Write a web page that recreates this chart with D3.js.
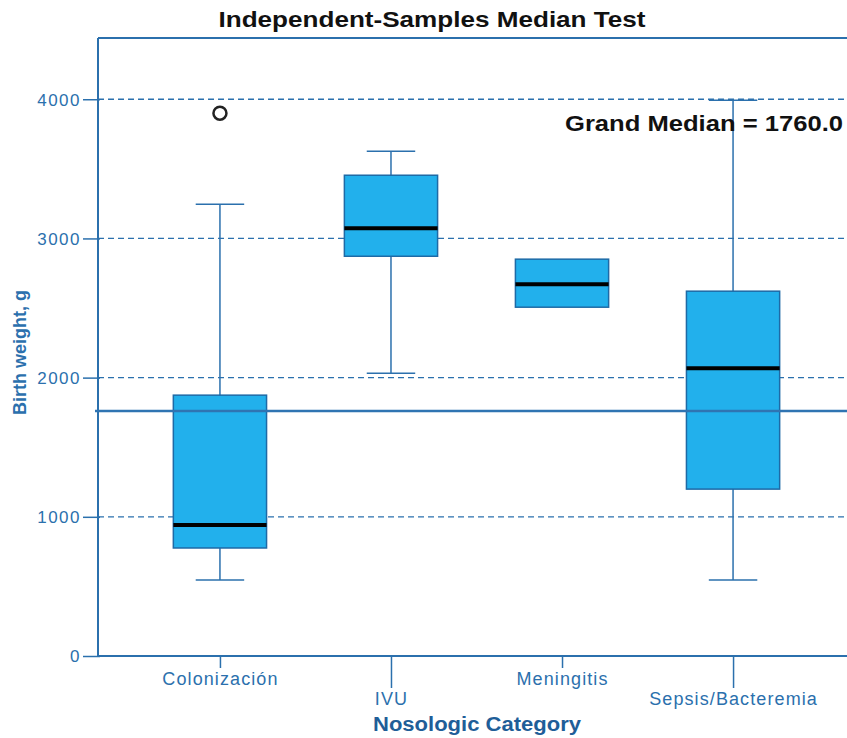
<!DOCTYPE html>
<html>
<head>
<meta charset="utf-8">
<script src="https://cdn.jsdelivr.net/npm/d3@7"></script>
<style>
  body { margin: 0; background: #fff; }
  svg { display: block; }
</style>
</head>
<body>
<div id="chart"></div>
<script>
// data
const categories = ["Colonización", "IVU", "Meningitis", "Sepsis/Bacteremia"];
const whiskerLow = [546, 2032, null, 546];
const q1 = [776, 2872, 2506, 1199];
const median = [941, 3074, 2671, 2068];
const q3 = [1874, 3454, 2851, 2621];
const whiskerHigh = [3246, 3627, null, 3993];
const outliers = [{ cat: "Colonización", value: 3900 }];
const yTicks = [0, 1000, 2000, 3000, 4000];
const grandMedian = 1760.0;

const W = 847, H = 738;
const margin = { top: 38, left: 98, bottom: 82 };
const axisBlue = "#2b70ad";
const font = "Liberation Sans, Arial, sans-serif";

const svg = d3.select("#chart").append("svg")
    .attr("width", W)
    .attr("height", H);

const y = d3.scaleLinear().domain([0, 4440]).range([H - margin.bottom, margin.top]);
const x = d3.scalePoint().domain(categories).range([margin.left, 855]).padding(0.713);
const boxW = x.step() * 0.545;
const capW = boxW * 0.52;

const boxes = categories.map((c, i) => ({
    cat: c, lo: whiskerLow[i], q1: q1[i], med: median[i], q3: q3[i], hi: whiskerHigh[i]
}));

// title
svg.append("text")
    .attr("x", 432)
    .attr("y", 27)
    .attr("text-anchor", "middle")
    .attr("font-family", font)
    .attr("font-weight", "bold")
    .attr("font-size", 22)
    .attr("textLength", 427)
    .attr("lengthAdjust", "spacingAndGlyphs")
    .attr("fill", "#111")
    .text("Independent-Samples Median Test");

// dashed grid lines
svg.append("g").selectAll("line")
    .data(yTicks.filter(d => d > 0))
    .join("line")
    .attr("x1", margin.left)
    .attr("x2", W)
    .attr("y1", d => y(d))
    .attr("y2", d => y(d))
    .attr("stroke", axisBlue)
    .attr("stroke-width", 1.3)
    .attr("stroke-dasharray", "6,4");

// top frame line
svg.append("line")
    .attr("x1", margin.left).attr("x2", W)
    .attr("y1", margin.top).attr("y2", margin.top)
    .attr("stroke", axisBlue).attr("stroke-width", 2);

// y axis
const yAxis = svg.append("g")
    .attr("transform", `translate(${margin.left},0)`)
    .call(d3.axisLeft(y).tickValues(yTicks).tickFormat(d3.format("d"))
        .tickSize(15).tickPadding(2).tickSizeOuter(0));
yAxis.select(".domain").attr("stroke", axisBlue).attr("stroke-width", 2)
    .attr("d", `M0,${margin.top}V${y(0)}`);
yAxis.selectAll(".tick line").attr("stroke", axisBlue).attr("stroke-width", 1.5).attr("x2", -15).attr("x1", 2);
yAxis.selectAll(".tick text")
    .attr("fill", axisBlue)
    .attr("font-family", font)
    .attr("font-size", 17)
    .attr("letter-spacing", 1.5)
    .attr("dy", "0.35em");

// x axis
const xAxis = svg.append("g")
    .attr("transform", `translate(0,${y(0)})`)
    .call(d3.axisBottom(x).tickSizeOuter(0).tickSize(12));
xAxis.select(".domain").attr("stroke", axisBlue).attr("stroke-width", 2)
    .attr("d", `M${margin.left},0H${W}`);
xAxis.selectAll(".tick line")
    .attr("stroke", axisBlue).attr("stroke-width", 1.5)
    .attr("y2", (d, i) => i % 2 ? 32 : 12);
xAxis.selectAll(".tick text")
    .attr("fill", axisBlue)
    .attr("font-family", font)
    .attr("font-size", 18)
    .attr("letter-spacing", 1.1)
    .attr("y", (d, i) => i % 2 ? 36 : 16)
    .attr("dy", "0.71em");

// axis titles
svg.append("text")
    .attr("transform", `translate(26,${y(2180)}) rotate(-90)`)
    .attr("text-anchor", "middle")
    .attr("font-family", font)
    .attr("font-weight", "bold")
    .attr("font-size", 18)
    .attr("textLength", 125)
    .attr("lengthAdjust", "spacingAndGlyphs")
    .attr("fill", axisBlue)
    .text("Birth weight, g");

svg.append("text")
    .attr("x", 477)
    .attr("y", 731)
    .attr("text-anchor", "middle")
    .attr("font-family", font)
    .attr("font-weight", "bold")
    .attr("font-size", 20)
    .attr("textLength", 208)
    .attr("lengthAdjust", "spacingAndGlyphs")
    .attr("fill", "#1f5e98")
    .text("Nosologic Category");

// boxes
const g = svg.append("g");
const withWhisk = boxes.filter(d => d.lo != null);

g.selectAll(".whisker")
    .data(withWhisk)
    .join("line")
    .attr("class", "whisker")
    .attr("x1", d => x(d.cat)).attr("x2", d => x(d.cat))
    .attr("y1", d => y(d.lo)).attr("y2", d => y(d.hi))
    .attr("stroke", axisBlue).attr("stroke-width", 1.5);

g.selectAll(".cap")
    .data(withWhisk.flatMap(d => [{ cat: d.cat, v: d.lo }, { cat: d.cat, v: d.hi }]))
    .join("line")
    .attr("class", "cap")
    .attr("x1", d => x(d.cat) - capW / 2).attr("x2", d => x(d.cat) + capW / 2)
    .attr("y1", d => y(d.v)).attr("y2", d => y(d.v))
    .attr("stroke", axisBlue).attr("stroke-width", 1.5);

g.selectAll(".box")
    .data(boxes)
    .join("rect")
    .attr("class", "box")
    .attr("x", d => x(d.cat) - boxW / 2)
    .attr("width", boxW)
    .attr("y", d => y(d.q3))
    .attr("height", d => y(d.q1) - y(d.q3))
    .attr("fill", "#22b0ec")
    .attr("stroke", "#1e6aa6")
    .attr("stroke-width", 1.5);

// grand median line
svg.append("line")
    .attr("x1", margin.left - 3).attr("x2", W)
    .attr("y1", y(grandMedian)).attr("y2", y(grandMedian))
    .attr("stroke", "#2f74b2").attr("stroke-width", 2.5);

g.selectAll(".med")
    .data(boxes)
    .join("line")
    .attr("class", "med")
    .attr("x1", d => x(d.cat) - boxW / 2).attr("x2", d => x(d.cat) + boxW / 2)
    .attr("y1", d => y(d.med)).attr("y2", d => y(d.med))
    .attr("stroke", "#000").attr("stroke-width", 4);

g.selectAll(".outlier")
    .data(outliers)
    .join("circle")
    .attr("class", "outlier")
    .attr("cx", d => x(d.cat))
    .attr("cy", d => y(d.value))
    .attr("r", 6.5)
    .attr("fill", "none")
    .attr("stroke", "#222")
    .attr("stroke-width", 2.5);

svg.append("text")
    .attr("x", 843)
    .attr("y", 131)
    .attr("text-anchor", "end")
    .attr("font-family", font)
    .attr("font-weight", "bold")
    .attr("font-size", 22)
    .attr("textLength", 278)
    .attr("lengthAdjust", "spacingAndGlyphs")
    .attr("fill", "#111")
    .text(`Grand Median = ${grandMedian.toFixed(1)}`);
</script>
</body>
</html>
